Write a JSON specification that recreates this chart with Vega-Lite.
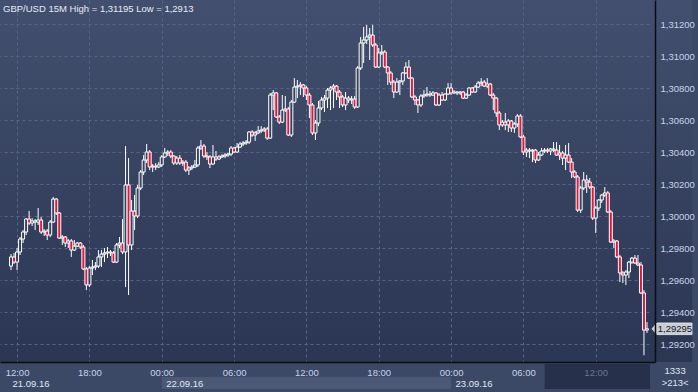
{
"$schema":"https://vega.github.io/schema/vega-lite/v6.json",
"width":655,"height":362,
"autosize":{"type":"none"},
"padding":{"left":0,"top":0,"right":43,"bottom":30},
"background":"#3b4866",
"title":{"text":"GBP/USD 15M High = 1,31195 Low = 1,2913","anchor":"start","frame":"group","orient":"top","offset":-21,"dx":3,"font":"Liberation Sans","fontSize":9.5,"fontWeight":"normal","color":"#e6ecf6","baseline":"alphabetic"},
"config":{
 "locale":{"number":{"decimal":",","thousands":".","grouping":[3],"currency":["",""]}},
 "view":{"stroke":null,"fill":{"gradient":"linear","x1":0,"y1":0,"x2":0,"y2":1,"stops":[{"offset":0,"color":"#424f6e"},{"offset":1,"color":"#2a3652"}]}},
 "axis":{"labelFont":"Liberation Sans","labelFontSize":9.5,"labelColor":"#c8d4ea","ticks":false,"tickSize":0,"gridColor":"#56658a","gridDash":[3,3],"gridWidth":1,"domainColor":"#0a0d14","domainWidth":1.5,"minExtent":0}
},
"data":{"values":[
{"t":"2016-09-21T11:30","o":1.29687,"h":1.29762,"l":1.29662,"c":1.29744},
{"t":"2016-09-21T11:45","o":1.29744,"h":1.29769,"l":1.29700,"c":1.29712},
{"t":"2016-09-21T12:00","o":1.29712,"h":1.29800,"l":1.29662,"c":1.29775},
{"t":"2016-09-21T12:15","o":1.29775,"h":1.29869,"l":1.29756,"c":1.29856},
{"t":"2016-09-21T12:30","o":1.29856,"h":1.29912,"l":1.29831,"c":1.29900},
{"t":"2016-09-21T12:45","o":1.29900,"h":1.29987,"l":1.29881,"c":1.29981},
{"t":"2016-09-21T13:00","o":1.29981,"h":1.30031,"l":1.29944,"c":1.29956},
{"t":"2016-09-21T13:15","o":1.29956,"h":1.29987,"l":1.29937,"c":1.29969},
{"t":"2016-09-21T13:30","o":1.29969,"h":1.29981,"l":1.29912,"c":1.29962},
{"t":"2016-09-21T13:45","o":1.29962,"h":1.30050,"l":1.29944,"c":1.29975},
{"t":"2016-09-21T14:00","o":1.29975,"h":1.29994,"l":1.29887,"c":1.29900},
{"t":"2016-09-21T14:15","o":1.29900,"h":1.29919,"l":1.29875,"c":1.29906},
{"t":"2016-09-21T14:30","o":1.29906,"h":1.29919,"l":1.29850,"c":1.29881},
{"t":"2016-09-21T14:45","o":1.29881,"h":1.29975,"l":1.29869,"c":1.29962},
{"t":"2016-09-21T15:00","o":1.29962,"h":1.30119,"l":1.29956,"c":1.30106},
{"t":"2016-09-21T15:15","o":1.30106,"h":1.30112,"l":1.30006,"c":1.30019},
{"t":"2016-09-21T15:30","o":1.30019,"h":1.30025,"l":1.29856,"c":1.29862},
{"t":"2016-09-21T15:45","o":1.29862,"h":1.29881,"l":1.29819,"c":1.29869},
{"t":"2016-09-21T16:00","o":1.29869,"h":1.29875,"l":1.29806,"c":1.29831},
{"t":"2016-09-21T16:15","o":1.29831,"h":1.29856,"l":1.29800,"c":1.29844},
{"t":"2016-09-21T16:30","o":1.29844,"h":1.29856,"l":1.29744,"c":1.29787},
{"t":"2016-09-21T16:45","o":1.29787,"h":1.29850,"l":1.29781,"c":1.29812},
{"t":"2016-09-21T17:00","o":1.29812,"h":1.29837,"l":1.29806,"c":1.29831},
{"t":"2016-09-21T17:15","o":1.29831,"h":1.29837,"l":1.29794,"c":1.29806},
{"t":"2016-09-21T17:30","o":1.29806,"h":1.29819,"l":1.29662,"c":1.29669},
{"t":"2016-09-21T17:45","o":1.29669,"h":1.29681,"l":1.29537,"c":1.29569},
{"t":"2016-09-21T18:00","o":1.29569,"h":1.29687,"l":1.29556,"c":1.29675},
{"t":"2016-09-21T18:15","o":1.29675,"h":1.29725,"l":1.29631,"c":1.29681},
{"t":"2016-09-21T18:30","o":1.29681,"h":1.29712,"l":1.29662,"c":1.29687},
{"t":"2016-09-21T18:45","o":1.29687,"h":1.29787,"l":1.29675,"c":1.29744},
{"t":"2016-09-21T19:00","o":1.29744,"h":1.29787,"l":1.29681,"c":1.29762},
{"t":"2016-09-21T19:15","o":1.29762,"h":1.29800,"l":1.29712,"c":1.29769},
{"t":"2016-09-21T19:30","o":1.29769,"h":1.29806,"l":1.29737,"c":1.29775},
{"t":"2016-09-21T19:45","o":1.29775,"h":1.29787,"l":1.29750,"c":1.29769},
{"t":"2016-09-21T20:00","o":1.29769,"h":1.29781,"l":1.29706,"c":1.29712},
{"t":"2016-09-21T20:15","o":1.29712,"h":1.29831,"l":1.29706,"c":1.29819},
{"t":"2016-09-21T20:30","o":1.29819,"h":1.29869,"l":1.29800,"c":1.29831},
{"t":"2016-09-21T20:45","o":1.29831,"h":1.29981,"l":1.29762,"c":1.29775},
{"t":"2016-09-21T21:00","o":1.29775,"h":1.30437,"l":1.29556,"c":1.30194},
{"t":"2016-09-21T21:15","o":1.30194,"h":1.30362,"l":1.29506,"c":1.29819},
{"t":"2016-09-21T21:30","o":1.29819,"h":1.30100,"l":1.29787,"c":1.30031},
{"t":"2016-09-21T21:45","o":1.30031,"h":1.30131,"l":1.29912,"c":1.30000},
{"t":"2016-09-21T22:00","o":1.30000,"h":1.30194,"l":1.29987,"c":1.30175},
{"t":"2016-09-21T22:15","o":1.30175,"h":1.30287,"l":1.30162,"c":1.30275},
{"t":"2016-09-21T22:30","o":1.30275,"h":1.30381,"l":1.30256,"c":1.30350},
{"t":"2016-09-21T22:45","o":1.30350,"h":1.30450,"l":1.30331,"c":1.30400},
{"t":"2016-09-21T23:00","o":1.30400,"h":1.30412,"l":1.30287,"c":1.30306},
{"t":"2016-09-21T23:15","o":1.30306,"h":1.30325,"l":1.30275,"c":1.30312},
{"t":"2016-09-21T23:30","o":1.30312,"h":1.30331,"l":1.30287,"c":1.30306},
{"t":"2016-09-21T23:45","o":1.30306,"h":1.30337,"l":1.30300,"c":1.30319},
{"t":"2016-09-22T00:00","o":1.30319,"h":1.30381,"l":1.30306,"c":1.30369},
{"t":"2016-09-22T00:15","o":1.30369,"h":1.30425,"l":1.30362,"c":1.30394},
{"t":"2016-09-22T00:30","o":1.30394,"h":1.30412,"l":1.30375,"c":1.30400},
{"t":"2016-09-22T00:45","o":1.30400,"h":1.30412,"l":1.30362,"c":1.30375},
{"t":"2016-09-22T01:00","o":1.30375,"h":1.30381,"l":1.30319,"c":1.30331},
{"t":"2016-09-22T01:15","o":1.30331,"h":1.30375,"l":1.30319,"c":1.30362},
{"t":"2016-09-22T01:30","o":1.30362,"h":1.30381,"l":1.30319,"c":1.30331},
{"t":"2016-09-22T01:45","o":1.30331,"h":1.30350,"l":1.30312,"c":1.30337},
{"t":"2016-09-22T02:00","o":1.30337,"h":1.30350,"l":1.30275,"c":1.30287},
{"t":"2016-09-22T02:15","o":1.30287,"h":1.30312,"l":1.30256,"c":1.30300},
{"t":"2016-09-22T02:30","o":1.30300,"h":1.30319,"l":1.30287,"c":1.30306},
{"t":"2016-09-22T02:45","o":1.30306,"h":1.30350,"l":1.30300,"c":1.30319},
{"t":"2016-09-22T03:00","o":1.30319,"h":1.30437,"l":1.30306,"c":1.30425},
{"t":"2016-09-22T03:15","o":1.30425,"h":1.30475,"l":1.30412,"c":1.30437},
{"t":"2016-09-22T03:30","o":1.30437,"h":1.30450,"l":1.30362,"c":1.30375},
{"t":"2016-09-22T03:45","o":1.30375,"h":1.30400,"l":1.30350,"c":1.30369},
{"t":"2016-09-22T04:00","o":1.30369,"h":1.30381,"l":1.30300,"c":1.30325},
{"t":"2016-09-22T04:15","o":1.30325,"h":1.30444,"l":1.30319,"c":1.30369},
{"t":"2016-09-22T04:30","o":1.30369,"h":1.30406,"l":1.30344,"c":1.30356},
{"t":"2016-09-22T04:45","o":1.30356,"h":1.30381,"l":1.30350,"c":1.30369},
{"t":"2016-09-22T05:00","o":1.30369,"h":1.30387,"l":1.30362,"c":1.30375},
{"t":"2016-09-22T05:15","o":1.30375,"h":1.30394,"l":1.30362,"c":1.30381},
{"t":"2016-09-22T05:30","o":1.30381,"h":1.30394,"l":1.30369,"c":1.30387},
{"t":"2016-09-22T05:45","o":1.30387,"h":1.30437,"l":1.30375,"c":1.30425},
{"t":"2016-09-22T06:00","o":1.30425,"h":1.30431,"l":1.30394,"c":1.30400},
{"t":"2016-09-22T06:15","o":1.30400,"h":1.30456,"l":1.30394,"c":1.30431},
{"t":"2016-09-22T06:30","o":1.30431,"h":1.30462,"l":1.30425,"c":1.30450},
{"t":"2016-09-22T06:45","o":1.30450,"h":1.30469,"l":1.30437,"c":1.30456},
{"t":"2016-09-22T07:00","o":1.30456,"h":1.30475,"l":1.30444,"c":1.30462},
{"t":"2016-09-22T07:15","o":1.30462,"h":1.30531,"l":1.30450,"c":1.30525},
{"t":"2016-09-22T07:30","o":1.30525,"h":1.30537,"l":1.30494,"c":1.30506},
{"t":"2016-09-22T07:45","o":1.30506,"h":1.30531,"l":1.30469,"c":1.30519},
{"t":"2016-09-22T08:00","o":1.30519,"h":1.30562,"l":1.30512,"c":1.30531},
{"t":"2016-09-22T08:15","o":1.30531,"h":1.30562,"l":1.30519,"c":1.30537},
{"t":"2016-09-22T08:30","o":1.30537,"h":1.30556,"l":1.30525,"c":1.30544},
{"t":"2016-09-22T08:45","o":1.30544,"h":1.30556,"l":1.30475,"c":1.30487},
{"t":"2016-09-22T09:00","o":1.30487,"h":1.30769,"l":1.30481,"c":1.30756},
{"t":"2016-09-22T09:15","o":1.30756,"h":1.30787,"l":1.30662,"c":1.30769},
{"t":"2016-09-22T09:30","o":1.30769,"h":1.30775,"l":1.30612,"c":1.30619},
{"t":"2016-09-22T09:45","o":1.30619,"h":1.30631,"l":1.30575,"c":1.30587},
{"t":"2016-09-22T10:00","o":1.30587,"h":1.30756,"l":1.30581,"c":1.30662},
{"t":"2016-09-22T10:15","o":1.30662,"h":1.30750,"l":1.30650,"c":1.30669},
{"t":"2016-09-22T10:30","o":1.30669,"h":1.30681,"l":1.30500,"c":1.30506},
{"t":"2016-09-22T10:45","o":1.30506,"h":1.30725,"l":1.30494,"c":1.30712},
{"t":"2016-09-22T11:00","o":1.30712,"h":1.30862,"l":1.30706,"c":1.30806},
{"t":"2016-09-22T11:15","o":1.30806,"h":1.30850,"l":1.30737,"c":1.30812},
{"t":"2016-09-22T11:30","o":1.30812,"h":1.30837,"l":1.30756,"c":1.30819},
{"t":"2016-09-22T11:45","o":1.30819,"h":1.30825,"l":1.30744,"c":1.30800},
{"t":"2016-09-22T12:00","o":1.30800,"h":1.30812,"l":1.30725,"c":1.30756},
{"t":"2016-09-22T12:15","o":1.30756,"h":1.30769,"l":1.30612,"c":1.30694},
{"t":"2016-09-22T12:30","o":1.30694,"h":1.30706,"l":1.30506,"c":1.30519},
{"t":"2016-09-22T12:45","o":1.30519,"h":1.30600,"l":1.30475,"c":1.30581},
{"t":"2016-09-22T13:00","o":1.30581,"h":1.30719,"l":1.30562,"c":1.30675},
{"t":"2016-09-22T13:15","o":1.30675,"h":1.30744,"l":1.30662,"c":1.30725},
{"t":"2016-09-22T13:30","o":1.30725,"h":1.30756,"l":1.30650,"c":1.30737},
{"t":"2016-09-22T13:45","o":1.30737,"h":1.30800,"l":1.30675,"c":1.30787},
{"t":"2016-09-22T14:00","o":1.30787,"h":1.30812,"l":1.30662,"c":1.30800},
{"t":"2016-09-22T14:15","o":1.30800,"h":1.30825,"l":1.30675,"c":1.30812},
{"t":"2016-09-22T14:30","o":1.30812,"h":1.30819,"l":1.30725,"c":1.30775},
{"t":"2016-09-22T14:45","o":1.30775,"h":1.30787,"l":1.30675,"c":1.30744},
{"t":"2016-09-22T15:00","o":1.30744,"h":1.30756,"l":1.30681,"c":1.30694},
{"t":"2016-09-22T15:15","o":1.30694,"h":1.30775,"l":1.30662,"c":1.30737},
{"t":"2016-09-22T15:30","o":1.30737,"h":1.30750,"l":1.30706,"c":1.30725},
{"t":"2016-09-22T15:45","o":1.30725,"h":1.30750,"l":1.30700,"c":1.30731},
{"t":"2016-09-22T16:00","o":1.30731,"h":1.30750,"l":1.30669,"c":1.30681},
{"t":"2016-09-22T16:15","o":1.30681,"h":1.30937,"l":1.30675,"c":1.30925},
{"t":"2016-09-22T16:30","o":1.30925,"h":1.31119,"l":1.30912,"c":1.31081},
{"t":"2016-09-22T16:45","o":1.31081,"h":1.31181,"l":1.30956,"c":1.31100},
{"t":"2016-09-22T17:00","o":1.31100,"h":1.31194,"l":1.31075,"c":1.31119},
{"t":"2016-09-22T17:15","o":1.31119,"h":1.31175,"l":1.30975,"c":1.31131},
{"t":"2016-09-22T17:30","o":1.31131,"h":1.31195,"l":1.31056,"c":1.31069},
{"t":"2016-09-22T17:45","o":1.31069,"h":1.31081,"l":1.30925,"c":1.30931},
{"t":"2016-09-22T18:00","o":1.30931,"h":1.31050,"l":1.30925,"c":1.31019},
{"t":"2016-09-22T18:15","o":1.31019,"h":1.31069,"l":1.31006,"c":1.31025},
{"t":"2016-09-22T18:30","o":1.31025,"h":1.31037,"l":1.30925,"c":1.30931},
{"t":"2016-09-22T18:45","o":1.30931,"h":1.30937,"l":1.30819,"c":1.30894},
{"t":"2016-09-22T19:00","o":1.30894,"h":1.30906,"l":1.30819,"c":1.30837},
{"t":"2016-09-22T19:15","o":1.30837,"h":1.30850,"l":1.30737,"c":1.30775},
{"t":"2016-09-22T19:30","o":1.30775,"h":1.30862,"l":1.30769,"c":1.30837},
{"t":"2016-09-22T19:45","o":1.30837,"h":1.30850,"l":1.30756,"c":1.30844},
{"t":"2016-09-22T20:00","o":1.30844,"h":1.30900,"l":1.30819,"c":1.30894},
{"t":"2016-09-22T20:15","o":1.30894,"h":1.30962,"l":1.30887,"c":1.30931},
{"t":"2016-09-22T20:30","o":1.30931,"h":1.30975,"l":1.30856,"c":1.30862},
{"t":"2016-09-22T20:45","o":1.30862,"h":1.30869,"l":1.30737,"c":1.30744},
{"t":"2016-09-22T21:00","o":1.30744,"h":1.30756,"l":1.30694,"c":1.30725},
{"t":"2016-09-22T21:15","o":1.30725,"h":1.30731,"l":1.30644,"c":1.30694},
{"t":"2016-09-22T21:30","o":1.30694,"h":1.30762,"l":1.30681,"c":1.30750},
{"t":"2016-09-22T21:45","o":1.30750,"h":1.30787,"l":1.30737,"c":1.30756},
{"t":"2016-09-22T22:00","o":1.30756,"h":1.30806,"l":1.30744,"c":1.30762},
{"t":"2016-09-22T22:15","o":1.30762,"h":1.30781,"l":1.30744,"c":1.30756},
{"t":"2016-09-22T22:30","o":1.30756,"h":1.30781,"l":1.30750,"c":1.30769},
{"t":"2016-09-22T22:45","o":1.30769,"h":1.30775,"l":1.30687,"c":1.30694},
{"t":"2016-09-22T23:00","o":1.30694,"h":1.30769,"l":1.30687,"c":1.30756},
{"t":"2016-09-22T23:15","o":1.30756,"h":1.30775,"l":1.30719,"c":1.30725},
{"t":"2016-09-22T23:30","o":1.30725,"h":1.30769,"l":1.30719,"c":1.30762},
{"t":"2016-09-22T23:45","o":1.30762,"h":1.30831,"l":1.30756,"c":1.30800},
{"t":"2016-09-23T00:00","o":1.30800,"h":1.30831,"l":1.30756,"c":1.30769},
{"t":"2016-09-23T00:15","o":1.30769,"h":1.30787,"l":1.30762,"c":1.30775},
{"t":"2016-09-23T00:30","o":1.30775,"h":1.30781,"l":1.30756,"c":1.30769},
{"t":"2016-09-23T00:45","o":1.30769,"h":1.30781,"l":1.30756,"c":1.30775},
{"t":"2016-09-23T01:00","o":1.30775,"h":1.30781,"l":1.30731,"c":1.30737},
{"t":"2016-09-23T01:15","o":1.30737,"h":1.30769,"l":1.30731,"c":1.30756},
{"t":"2016-09-23T01:30","o":1.30756,"h":1.30806,"l":1.30750,"c":1.30800},
{"t":"2016-09-23T01:45","o":1.30800,"h":1.30806,"l":1.30769,"c":1.30775},
{"t":"2016-09-23T02:00","o":1.30775,"h":1.30819,"l":1.30769,"c":1.30806},
{"t":"2016-09-23T02:15","o":1.30806,"h":1.30844,"l":1.30800,"c":1.30831},
{"t":"2016-09-23T02:30","o":1.30831,"h":1.30862,"l":1.30812,"c":1.30837},
{"t":"2016-09-23T02:45","o":1.30837,"h":1.30850,"l":1.30806,"c":1.30812},
{"t":"2016-09-23T03:00","o":1.30812,"h":1.30862,"l":1.30800,"c":1.30825},
{"t":"2016-09-23T03:15","o":1.30825,"h":1.30831,"l":1.30750,"c":1.30756},
{"t":"2016-09-23T03:30","o":1.30756,"h":1.30769,"l":1.30662,"c":1.30737},
{"t":"2016-09-23T03:45","o":1.30737,"h":1.30744,"l":1.30619,"c":1.30644},
{"t":"2016-09-23T04:00","o":1.30644,"h":1.30656,"l":1.30537,"c":1.30569},
{"t":"2016-09-23T04:15","o":1.30569,"h":1.30600,"l":1.30556,"c":1.30587},
{"t":"2016-09-23T04:30","o":1.30587,"h":1.30644,"l":1.30537,"c":1.30569},
{"t":"2016-09-23T04:45","o":1.30569,"h":1.30606,"l":1.30525,"c":1.30594},
{"t":"2016-09-23T05:00","o":1.30594,"h":1.30600,"l":1.30525,"c":1.30550},
{"t":"2016-09-23T05:15","o":1.30550,"h":1.30587,"l":1.30519,"c":1.30575},
{"t":"2016-09-23T05:30","o":1.30575,"h":1.30637,"l":1.30556,"c":1.30625},
{"t":"2016-09-23T05:45","o":1.30625,"h":1.30637,"l":1.30487,"c":1.30494},
{"t":"2016-09-23T06:00","o":1.30494,"h":1.30506,"l":1.30381,"c":1.30400},
{"t":"2016-09-23T06:15","o":1.30400,"h":1.30425,"l":1.30369,"c":1.30412},
{"t":"2016-09-23T06:30","o":1.30412,"h":1.30425,"l":1.30362,"c":1.30406},
{"t":"2016-09-23T06:45","o":1.30406,"h":1.30419,"l":1.30337,"c":1.30412},
{"t":"2016-09-23T07:00","o":1.30412,"h":1.30419,"l":1.30331,"c":1.30350},
{"t":"2016-09-23T07:15","o":1.30350,"h":1.30400,"l":1.30344,"c":1.30381},
{"t":"2016-09-23T07:30","o":1.30381,"h":1.30425,"l":1.30375,"c":1.30406},
{"t":"2016-09-23T07:45","o":1.30406,"h":1.30425,"l":1.30394,"c":1.30412},
{"t":"2016-09-23T08:00","o":1.30412,"h":1.30425,"l":1.30394,"c":1.30406},
{"t":"2016-09-23T08:15","o":1.30406,"h":1.30425,"l":1.30381,"c":1.30419},
{"t":"2016-09-23T08:30","o":1.30419,"h":1.30462,"l":1.30400,"c":1.30412},
{"t":"2016-09-23T08:45","o":1.30412,"h":1.30462,"l":1.30375,"c":1.30381},
{"t":"2016-09-23T09:00","o":1.30381,"h":1.30444,"l":1.30350,"c":1.30394},
{"t":"2016-09-23T09:15","o":1.30394,"h":1.30406,"l":1.30319,"c":1.30362},
{"t":"2016-09-23T09:30","o":1.30362,"h":1.30444,"l":1.30287,"c":1.30381},
{"t":"2016-09-23T09:45","o":1.30381,"h":1.30456,"l":1.30331,"c":1.30337},
{"t":"2016-09-23T10:00","o":1.30337,"h":1.30362,"l":1.30237,"c":1.30275},
{"t":"2016-09-23T10:15","o":1.30275,"h":1.30287,"l":1.30237,"c":1.30244},
{"t":"2016-09-23T10:30","o":1.30244,"h":1.30256,"l":1.30025,"c":1.30037},
{"t":"2016-09-23T10:45","o":1.30037,"h":1.30187,"l":1.30019,"c":1.30175},
{"t":"2016-09-23T11:00","o":1.30175,"h":1.30275,"l":1.30162,"c":1.30225},
{"t":"2016-09-23T11:15","o":1.30225,"h":1.30256,"l":1.30144,"c":1.30212},
{"t":"2016-09-23T11:30","o":1.30212,"h":1.30237,"l":1.30169,"c":1.30181},
{"t":"2016-09-23T11:45","o":1.30181,"h":1.30187,"l":1.29975,"c":1.29987},
{"t":"2016-09-23T12:00","o":1.29987,"h":1.30062,"l":1.29894,"c":1.30050},
{"t":"2016-09-23T12:15","o":1.30050,"h":1.30106,"l":1.30031,"c":1.30100},
{"t":"2016-09-23T12:30","o":1.30100,"h":1.30137,"l":1.30081,"c":1.30131},
{"t":"2016-09-23T12:45","o":1.30131,"h":1.30181,"l":1.30119,"c":1.30144},
{"t":"2016-09-23T13:00","o":1.30144,"h":1.30156,"l":1.30019,"c":1.30025},
{"t":"2016-09-23T13:15","o":1.30025,"h":1.30037,"l":1.29831,"c":1.29837},
{"t":"2016-09-23T13:30","o":1.29837,"h":1.29856,"l":1.29800,"c":1.29844},
{"t":"2016-09-23T13:45","o":1.29844,"h":1.29850,"l":1.29737,"c":1.29744},
{"t":"2016-09-23T14:00","o":1.29744,"h":1.29756,"l":1.29587,"c":1.29644},
{"t":"2016-09-23T14:15","o":1.29644,"h":1.29656,"l":1.29581,"c":1.29631},
{"t":"2016-09-23T14:30","o":1.29631,"h":1.29662,"l":1.29569,"c":1.29650},
{"t":"2016-09-23T14:45","o":1.29650,"h":1.29719,"l":1.29612,"c":1.29712},
{"t":"2016-09-23T15:00","o":1.29712,"h":1.29744,"l":1.29700,"c":1.29737},
{"t":"2016-09-23T15:15","o":1.29737,"h":1.29756,"l":1.29700,"c":1.29706},
{"t":"2016-09-23T15:30","o":1.29706,"h":1.29756,"l":1.29687,"c":1.29694},
{"t":"2016-09-23T15:45","o":1.29694,"h":1.29712,"l":1.29512,"c":1.29519},
{"t":"2016-09-23T16:00","o":1.29519,"h":1.29537,"l":1.29130,"c":1.29287},
{"t":"2016-09-23T16:15","o":1.29287,"h":1.29337,"l":1.29269,"c":1.29295}
]},
"resolve":{"axis":{"x":"independent","y":"independent"}},
"layer":[
{"data":{"values":[{}]},
 "mark":{"type":"rect","fill":{"gradient":"linear","x1":0,"y1":0,"x2":0,"y2":1,"stops":[{"offset":0,"color":"#424f6e"},{"offset":1,"color":"#2a3652"}]}},
 "encoding":{
  "x":{"datum":{"year":2016,"month":9,"date":23,"hours":16,"minutes":30},"type":"temporal","scale":{"domain":[{"year":2016,"month":9,"date":21,"hours":11},{"year":2016,"month":9,"date":23,"hours":16,"minutes":30}]},"axis":null},
  "x2":{"datum":{"year":2016,"month":9,"date":23,"hours":20,"minutes":0}},
  "y":{"datum":1.3135,"type":"quantitative","scale":{"domain":[1.290875,1.3135],"nice":false,"zero":false},"axis":null},
  "y2":{"datum":1.290875}
 }},
{"mark":{"type":"rule","color":"#ffffff","strokeWidth":1},
 "encoding":{
  "x":{"field":"t","type":"temporal","scale":{"domain":[{"year":2016,"month":9,"date":21,"hours":11},{"year":2016,"month":9,"date":23,"hours":16,"minutes":30}]},
   "axis":{"orient":"bottom","title":null,"values":[{"year":2016,"month":9,"date":21,"hours":12},{"year":2016,"month":9,"date":21,"hours":18},{"year":2016,"month":9,"date":22,"hours":0},{"year":2016,"month":9,"date":22,"hours":6},{"year":2016,"month":9,"date":22,"hours":12},{"year":2016,"month":9,"date":22,"hours":18},{"year":2016,"month":9,"date":23,"hours":0},{"year":2016,"month":9,"date":23,"hours":6},{"year":2016,"month":9,"date":23,"hours":12}],
    "grid":true,"domain":false,"labels":false,"zindex":0,"maxExtent":0}},
  "y":{"field":"l","type":"quantitative","scale":{"domain":[1.290875,1.3135],"nice":false,"zero":false},
   "axis":{"orient":"right","title":null,"values":[1.292,1.294,1.296,1.298,1.3,1.302,1.304,1.306,1.308,1.31,1.312],"grid":true,"domain":false,"labels":false,"zindex":0,"maxExtent":0}},
  "y2":{"field":"h"}
 }},
{"mark":{"type":"bar","size":3,"stroke":"#ffffff","strokeWidth":1},
 "encoding":{
  "x":{"field":"t","type":"temporal","scale":{"domain":[{"year":2016,"month":9,"date":21,"hours":11},{"year":2016,"month":9,"date":23,"hours":16,"minutes":30}]},"axis":null},
  "y":{"field":"o","type":"quantitative","scale":{"domain":[1.290875,1.3135],"nice":false,"zero":false},
   "axis":{"orient":"right","title":null,"values":[1.292,1.294,1.296,1.298,1.3,1.302,1.304,1.306,1.308,1.31,1.312],"format":".5f","labelPadding":5,"labelAlign":"left","labelBaseline":"middle","grid":false,"domain":true,"labelFlush":false,"labelOverlap":false,"zindex":2}},
  "y2":{"field":"c"},
  "fill":{"condition":{"test":"datum.c < datum.o","value":"#e8143c"},"value":"#36435f"}
 }},
{"data":{"values":[{}]},
 "mark":{"type":"rect","color":"#4b5876"},
 "encoding":{
  "x":{"datum":{"year":2016,"month":9,"date":22},"type":"temporal","scale":{"domain":[{"year":2016,"month":9,"date":21,"hours":11},{"year":2016,"month":9,"date":23,"hours":16,"minutes":30}]},"axis":null},
  "x2":{"datum":{"year":2016,"month":9,"date":23}},
  "y":{"datum":1.28994,"type":"quantitative","scale":{"domain":[1.290875,1.3135],"nice":false,"zero":false},"axis":null},
  "y2":{"datum":1.28919}
 }},
{"data":{"values":[{}]},
 "mark":{"type":"rect","color":"#26304a"},
 "encoding":{
  "x":{"datum":{"year":2016,"month":9,"date":23,"hours":7,"minutes":46},"type":"temporal","scale":{"domain":[{"year":2016,"month":9,"date":21,"hours":11},{"year":2016,"month":9,"date":23,"hours":16,"minutes":30}]},"axis":null},
  "x2":{"datum":{"year":2016,"month":9,"date":23,"hours":16,"minutes":30}},
  "y":{"datum":1.29075,"type":"quantitative","scale":{"domain":[1.290875,1.3135],"nice":false,"zero":false},"axis":null},
  "y2":{"datum":1.28919}
 }},
{"data":{"values":[{}]},
 "mark":{"type":"rule","color":"#0a0d14","strokeWidth":1.5},
 "encoding":{
  "x":{"datum":{"year":2016,"month":9,"date":21,"hours":11},"type":"temporal","scale":{"domain":[{"year":2016,"month":9,"date":21,"hours":11},{"year":2016,"month":9,"date":23,"hours":16,"minutes":30}]},
   "axis":{"orient":"bottom","title":null,"format":"%H:%M","values":[{"year":2016,"month":9,"date":21,"hours":12},{"year":2016,"month":9,"date":21,"hours":18},{"year":2016,"month":9,"date":22,"hours":0},{"year":2016,"month":9,"date":22,"hours":6},{"year":2016,"month":9,"date":22,"hours":12},{"year":2016,"month":9,"date":22,"hours":18},{"year":2016,"month":9,"date":23,"hours":0},{"year":2016,"month":9,"date":23,"hours":6},{"year":2016,"month":9,"date":23,"hours":12}],
    "grid":false,"domain":true,"labelPadding":5,"labelFlush":false,"labelOverlap":false,"labelBound":false,"zindex":2,
    "labelColor":{"condition":{"test":"datum.value > time(datetime(2016,8,23,9,0))","value":"#66748f"},"value":"#c8d4ea"}}},
  "x2":{"datum":{"year":2016,"month":9,"date":21,"hours":11}},
  "y":{"datum":1.29,"type":"quantitative","scale":{"domain":[1.290875,1.3135],"nice":false,"zero":false},"axis":null},
  "y2":{"datum":1.29}
 }},
{"data":{"values":[{"t":"2016-09-23T16:15","c":1.29295,"label":"1,29295"}]},
 "mark":{"type":"point","shape":"M -1 0 L -0.75 -0.29 L 1 -0.29 L 1 0.29 L -0.75 0.29 Z","size":1600,"filled":true,"fill":"#c9cdd4","stroke":"#eef0f4","strokeWidth":0.8,"opacity":1,"xOffset":25},
 "encoding":{
  "x":{"field":"t","type":"temporal","scale":{"domain":[{"year":2016,"month":9,"date":21,"hours":11},{"year":2016,"month":9,"date":23,"hours":16,"minutes":30}]},"axis":null},
  "y":{"field":"c","type":"quantitative","scale":{"domain":[1.290875,1.3135],"nice":false,"zero":false},"axis":null}
 }},
{"data":{"values":[{"t":"2016-09-23T16:15","c":1.29295,"label":"1,29295"}]},
 "mark":{"type":"text","font":"Liberation Sans","fontSize":9.5,"color":"#15181f","align":"center","baseline":"middle","dx":28},
 "encoding":{
  "x":{"field":"t","type":"temporal","scale":{"domain":[{"year":2016,"month":9,"date":21,"hours":11},{"year":2016,"month":9,"date":23,"hours":16,"minutes":30}]},
   "axis":{"orient":"bottom","title":null,"format":"%d.%m.%y","values":[{"year":2016,"month":9,"date":21,"hours":11,"minutes":15},{"year":2016,"month":9,"date":22},{"year":2016,"month":9,"date":23}],"labelAlign":"left","labelOffset":4,"labelPadding":16,"grid":false,"domain":false,"ticks":false,"labelFlush":false,"labelOverlap":false,"labelBound":false,"labelColor":"#e2e8f2","zindex":2}},
  "y":{"field":"c","type":"quantitative","scale":{"domain":[1.290875,1.3135],"nice":false,"zero":false},"axis":null},
  "text":{"field":"label"}
 }},
{"data":{"values":[{}]},
 "mark":{"type":"text","font":"Liberation Sans","fontSize":9.5,"color":"#dfe6f2","align":"center","baseline":"middle"},
 "encoding":{
  "x":{"datum":{"year":2016,"month":9,"date":23,"hours":18,"minutes":35},"type":"temporal","scale":{"domain":[{"year":2016,"month":9,"date":21,"hours":11},{"year":2016,"month":9,"date":23,"hours":16,"minutes":30}]},"axis":null},
  "y":{"datum":1.29031,"type":"quantitative","scale":{"domain":[1.290875,1.3135],"nice":false,"zero":false},"axis":null},
  "text":{"value":"1333"}
 }},
{"data":{"values":[{}]},
 "mark":{"type":"text","font":"Liberation Sans","fontSize":9.5,"color":"#dfe6f2","align":"center","baseline":"middle"},
 "encoding":{
  "x":{"datum":{"year":2016,"month":9,"date":23,"hours":18,"minutes":35},"type":"temporal","scale":{"domain":[{"year":2016,"month":9,"date":21,"hours":11},{"year":2016,"month":9,"date":23,"hours":16,"minutes":30}]},"axis":null},
  "y":{"datum":1.28956,"type":"quantitative","scale":{"domain":[1.290875,1.3135],"nice":false,"zero":false},"axis":null},
  "text":{"value":">213<"}
 }}
]
}
